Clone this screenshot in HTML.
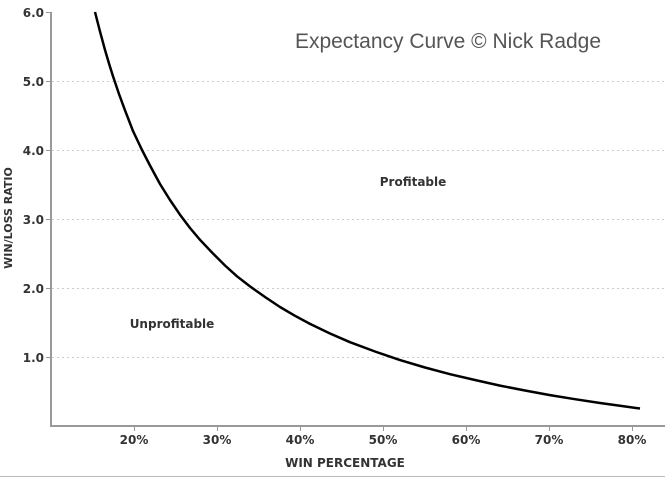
<!DOCTYPE html>
<html><head><style>
html,body{margin:0;padding:0;background:#fff;}
svg{display:block;}
.t{font-family:"DejaVu Sans",Verdana,sans-serif;font-weight:bold;font-size:12px;fill:#333;}
</style></head><body>
<svg width="665" height="478" viewBox="0 0 665 478">
<rect width="665" height="478" fill="#fff"/>
<g stroke="#ccc" stroke-dasharray="2,3" stroke-width="1">
<line x1="52" y1="81.5" x2="665" y2="81.5"/>
<line x1="52" y1="150.5" x2="665" y2="150.5"/>
<line x1="52" y1="219.5" x2="665" y2="219.5"/>
<line x1="52" y1="288.5" x2="665" y2="288.5"/>
<line x1="52" y1="357.5" x2="665" y2="357.5"/>
</g>
<g stroke="#999" stroke-width="2">
<line x1="51" y1="12" x2="51" y2="427"/>
<line x1="50" y1="426" x2="665" y2="426"/>
</g>
<g stroke="#999" stroke-width="1">
<line x1="46" y1="12.5" x2="51" y2="12.5"/>
<line x1="46" y1="81.5" x2="51" y2="81.5"/>
<line x1="46" y1="150.5" x2="51" y2="150.5"/>
<line x1="46" y1="219.5" x2="51" y2="219.5"/>
<line x1="46" y1="288.5" x2="51" y2="288.5"/>
<line x1="46" y1="357.5" x2="51" y2="357.5"/>
<line x1="134.5" y1="426" x2="134.5" y2="431"/>
<line x1="217.5" y1="426" x2="217.5" y2="431"/>
<line x1="300.5" y1="426" x2="300.5" y2="431"/>
<line x1="383.5" y1="426" x2="383.5" y2="431"/>
<line x1="466.5" y1="426" x2="466.5" y2="431"/>
<line x1="549.5" y1="426" x2="549.5" y2="431"/>
<line x1="632.5" y1="426" x2="632.5" y2="431"/>
</g>
<line x1="0" y1="476.5" x2="665" y2="476.5" stroke="#bbb" stroke-width="1"/>
<g class="t" text-anchor="end">
<text x="44" y="17">6.0</text>
<text x="44" y="86">5.0</text>
<text x="44" y="155">4.0</text>
<text x="44" y="224">3.0</text>
<text x="44" y="293">2.0</text>
<text x="44" y="362">1.0</text>
</g>
<g class="t" text-anchor="middle">
<text x="134" y="444">20%</text>
<text x="217" y="444">30%</text>
<text x="300" y="444">40%</text>
<text x="383" y="444">50%</text>
<text x="466" y="444">60%</text>
<text x="549" y="444">70%</text>
<text x="632" y="444">80%</text>
<text x="345" y="467">WIN PERCENTAGE</text>
<text x="413" y="186">Profitable</text>
<text x="172" y="328">Unprofitable</text>
<text transform="translate(12,218) rotate(-90)" font-size="11">WIN/LOSS RATIO</text>
</g>
<text x="448" y="48" text-anchor="middle" font-family="Liberation Sans,Arial,sans-serif" font-size="21" fill="#555">Expectancy Curve © Nick Radge</text>
<polyline fill="none" stroke="#000" stroke-width="2.5" stroke-linejoin="round" points="95,12 100,31.5 105,49.9 109,63.5 113,76.2 119,94 125,110.3 133,131 142,150 150,165.5 160,184 170,200 180,214.7 190,228 200,239.8 212,252.5 225,265.5 237,276.3 250,286.4 265,297 280,307 295,315.8 310,323.9 330,333.5 350,342.2 375,351.5 400,360.1 425,367.5 450,374.2 475,380 500,385.6 525,390.5 550,395.1 575,399.2 600,403 620,405.8 640,408.5"/>
</svg>
</body></html>
